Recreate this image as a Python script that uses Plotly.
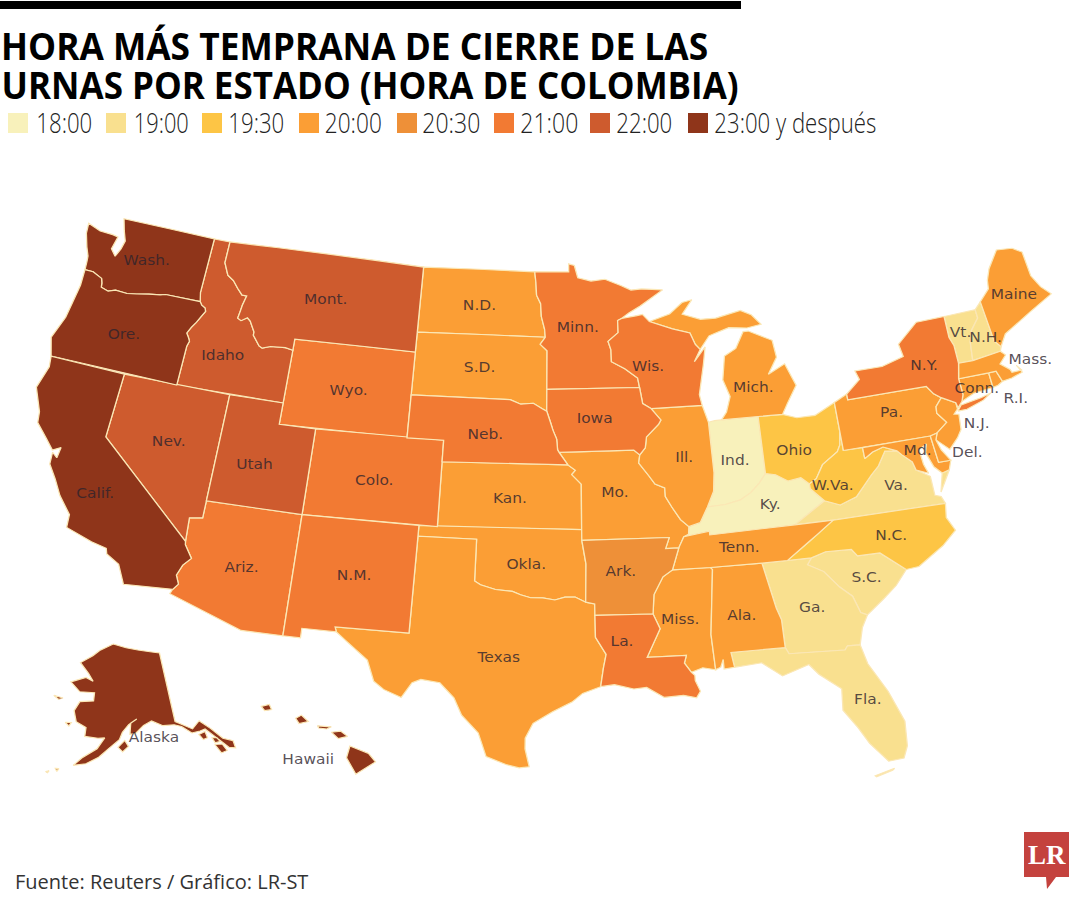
import json
import plotly.graph_objects as go

# closing hour categories, as in the legend
HOURS = ["18:00", "19:00", "19:30", "20:00", "20:30", "21:00", "22:00", "23:00 y después"]
HOUR_COLORS = ["#F8F1BB", "#F9E08F", "#FDC545", "#FB9E35", "#EE9038", "#F27A33", "#CE5B2E", "#8F351A"]
STATES_BY_HOUR = [
    ["IN", "KY"],
    ["VT", "NH", "VA", "SC", "GA", "FL"],
    ["OH", "WV", "NC"],
    ["ND", "SD", "KS", "OK", "TX", "MO", "IL", "MI", "MS", "AL", "TN", "PA", "NJ", "MD", "DE", "CT", "RI", "MA", "ME"],
    ["AR"],
    ["WY", "CO", "AZ", "NM", "MN", "WI", "IA", "NE", "NY", "LA"],
    ["ID", "MT", "NV", "UT"],
    ["WA", "OR", "CA", "AK", "HI"],
]

LABELS = ["Wash.", "Ore.", "Calif.", "Idaho", "Mont.", "Wyo.", "Nev.", "Utah", "Colo.", "Ariz.", "N.M.", "N.D.", "S.D.",
          "Neb.", "Kan.", "Okla.", "Texas", "Minn.", "Iowa", "Wis.", "Ill.", "Mo.", "Ark.", "La.", "Miss.", "Ala.",
          "Tenn.", "Mich.", "Ind.", "Ky.", "Ohio", "W.Va.", "Va.", "N.C.", "S.C.", "Ga.", "Fla.", "Pa.", "N.Y.", "Md.",
          "Del.", "N.J.", "Conn.", "R.I.", "Mass.", "N.H.", "Vt.", "Maine", "Alaska", "Hawaii"]
LABEL_LON = [-120.64, -120.65, -119.68, -114.9, -109.65, -107.55, -116.67, -111.94, -105.55, -111.6, -106.0, -100.5, -100.3,
             -99.8, -98.35, -97.44, -98.67, -94.65, -93.8, -90.67, -89.05, -92.84, -92.69, -92.77, -89.9, -86.9,
             -86.65, -84.85, -86.35, -84.8, -83.13, -81.42, -78.17, -78.95, -80.57, -83.45, -81.55, -77.56, -75.2, -76.65,
             -74.11, -73.22, -72.7, -70.8, -69.37, -71.4, -72.7, -69.1, -146.5, -157.7]
LABEL_LAT = [47.32, 43.72, 36.32, 43.7, 46.95, 42.9, 39.32, 38.93, 38.86, 34.14, 34.41, 47.3, 44.4,
             41.3, 38.36, 35.32, 31.0, 46.32, 42.1, 44.42, 40.1, 38.63, 34.98, 31.73, 32.64, 32.62,
             35.75, 43.08, 39.77, 37.6, 39.98, 38.13, 37.68, 35.46, 33.7, 32.64, 28.1, 41.04, 42.9, 39.12,
             38.6, 39.8, 41.37, 40.54, 42.14, 43.6, 44.07, 45.2, 58.4, 19.55]

# borders shared by two states, lon,lat
CHAINS = {
    "columbia": "-124.0,46.25 -123.5,46.25 -123.2,46.15 -122.9,46.05 -122.8,45.85 -122.75,45.65 -122.3,45.55 -121.9,45.68 -121.2,45.65 -120.65,45.73 -119.95,45.85 -119.3,45.93 -119.0,46.0 -116.92,46.0",
    "snake": "-116.92,46.0 -116.78,45.85 -116.55,45.75 -116.47,45.6 -116.67,45.3 -116.85,45.0 -117.05,44.75 -117.22,44.45 -117.05,44.25 -116.95,44.1 -117.03,43.85 -117.03,42.0",
    "idmt": "-116.05,49.0 -116.05,48.0 -115.7,47.45 -115.3,47.25 -114.95,46.93 -114.6,46.65 -114.32,46.65 -114.45,46.2 -114.5,45.85 -114.55,45.56 -114.33,45.47 -114.0,45.65 -113.8,45.52 -113.45,45.05 -113.45,44.9 -113.0,44.45 -112.8,44.37 -112.35,44.5 -111.5,44.55 -111.05,44.48",
    "colorado_r": "-114.72,32.72 -114.5,33.0 -114.7,33.4 -114.5,33.9 -114.15,34.27 -114.6,34.85 -114.63,35.0",
    "red_n": "-97.23,49.0 -97.15,48.5 -97.1,47.9 -96.85,47.5 -96.8,46.9 -96.6,46.3 -96.56,45.93",
    "sdmn": "-96.56,45.93 -96.85,45.6 -96.45,45.3 -96.45,43.5",
    "mo_up": "-98.5,43.0 -97.9,42.8 -97.2,42.85 -96.7,42.6 -96.45,42.49",
    "mo_ia": "-96.45,42.49 -96.25,42.0 -96.1,41.6 -95.9,41.2 -95.85,40.7 -95.77,40.58",
    "mo_ne": "-95.77,40.58 -95.3,40.0",
    "mo_ks": "-95.3,40.0 -94.9,39.75 -95.1,39.55 -94.6,39.1",
    "red_s": "-94.48,33.64 -95.0,33.88 -95.5,33.88 -96.0,33.75 -96.6,33.85 -97.2,33.85 -97.7,33.98 -98.1,34.13 -98.95,34.2 -99.7,34.4 -100.0,34.56",
    "sabine": "-94.04,32.0 -93.55,31.2 -93.7,30.55 -93.85,29.7",
    "mn_wi": "-92.29,46.66 -92.29,46.1 -92.9,45.7 -92.75,45.3 -92.75,44.75 -92.0,44.4 -91.3,43.95 -91.22,43.5",
    "ms_ia_wi": "-91.22,43.5 -91.1,42.75 -90.65,42.5",
    "ms_ia_il": "-90.65,42.5 -90.15,41.95 -90.3,41.75 -91.0,41.2 -91.1,40.7 -91.42,40.38",
    "ms_mo_il": "-91.42,40.38 -91.5,40.0 -91.0,39.4 -90.7,39.0 -90.2,38.8 -90.2,38.4 -89.9,37.9 -89.5,37.3 -89.1,36.95",
    "ms_mo_ky": "-89.1,36.95 -89.15,36.6 -89.4,36.5",
    "ms_mo_tn": "-89.4,36.5 -89.7,36.0",
    "ms_ar_tn": "-89.7,36.0 -90.1,35.0",
    "ms_ar_ms": "-90.1,35.0 -90.6,34.7 -91.1,33.9 -91.2,33.0",
    "ms_la": "-91.2,33.0 -90.9,32.3 -91.6,31.0",
    "boot": "-89.7,36.0 -90.37,36.0 -90.15,36.5",
    "ohio_il": "-88.05,37.8 -88.5,37.1 -89.1,36.95",
    "wabash": "-87.55,41.7 -87.53,39.35 -87.65,38.5 -88.05,37.8",
    "ohio_in": "-84.82,39.1 -85.2,38.7 -85.7,38.3 -86.3,38.0 -87.1,37.85 -88.05,37.8",
    "ohio_oh": "-82.6,38.4 -83.0,38.73 -83.7,38.65 -84.3,39.0 -84.82,39.1",
    "ohio_wv": "-80.52,40.64 -80.65,40.0 -80.85,39.7 -81.75,39.2 -82.2,38.6 -82.6,38.4",
    "ky_wv": "-82.6,38.4 -82.6,38.17 -81.97,37.54",
    "va_wv": "-81.97,37.54 -81.2,37.25 -80.3,37.52 -79.3,38.42 -78.85,38.77 -78.35,39.4 -77.72,39.32",
    "potomac_wv": "-77.72,39.32 -78.4,39.6 -79.0,39.45 -79.48,39.2 -79.48,39.72",
    "potomac_va": "-77.72,39.32 -77.5,39.1 -77.05,38.7 -76.95,38.3",
    "tn_nc": "-84.32,35.0 -83.1,35.75 -82.6,36.05 -81.7,36.6",
    "nc_sc": "-83.1,35.0 -82.35,35.2 -81.05,35.15 -80.8,34.82 -79.67,34.8 -78.55,33.86",
    "savannah": "-83.1,35.0 -83.35,34.7 -82.6,34.3 -81.95,33.5 -81.4,33.0 -81.15,32.2 -80.85,32.05",
    "ga_fl": "-81.45,30.72 -82.05,30.75 -82.2,30.57 -84.86,30.7 -85.0,31.0",
    "al_ga": "-85.0,31.0 -85.0,32.3 -85.18,32.87 -85.6,35.0",
    "al_ms": "-88.2,35.0 -88.1,34.9 -88.47,31.9 -88.4,30.25",
    "pearl": "-89.55,30.2 -89.85,30.65 -89.73,31.0",
    "delaware": "-74.7,41.36 -75.05,41.6 -75.35,42.0",
    "delaware_nj": "-74.7,41.36 -75.1,41.0 -75.15,40.7 -74.75,40.2 -75.4,39.8",
    "de_nj": "-75.4,39.8 -75.55,39.5",
    "ct_river": "-71.5,45.0 -71.5,44.6 -72.05,44.1 -72.3,43.6 -72.46,42.73",
    "ny_ne": "-73.35,45.0 -73.4,44.0 -73.25,43.6 -73.27,42.75",
    "mi_wi": "-90.42,46.55 -89.1,46.15 -88.1,45.9 -87.85,45.35 -87.6,45.1",
}

# state outlines, lon,lat; @name is a chain above, @name! the same chain reversed; | starts another ring
OUTLINES = {
    "WA": "-124.72,48.38 -124.65,47.9 -124.35,47.3 -124.1,46.9 -124.05,46.65 @columbia -117.04,46.42 -117.03,49.0 -122.75,49.0 -122.5,48.45 -122.25,48.0 -122.35,47.6 -122.55,47.2 -122.9,47.5 -122.75,48.1 -123.1,48.15 -123.9,48.17",
    "OR": "@columbia! -123.95,45.5 -124.05,44.7 -124.15,43.9 -124.55,42.84 -124.2,42.0 -117.03,42.0 @snake!",
    "CA": "-124.2,42.0 -124.1,41.5 -124.4,40.45 -123.8,39.4 -123.7,38.9 -123.0,38.3 -122.5,37.85 -122.1,38.05 -122.15,37.55 -122.45,37.75 -122.4,37.2 -121.9,36.6 -121.4,35.9 -120.65,35.15 -120.6,34.55 -119.2,34.15 -118.4,34.0 -118.3,33.75 -117.6,33.4 -117.12,32.53 @colorado_r -120.0,39.0 -120.0,42.0",
    "NV": "-120.0,42.0 -114.04,42.0 -114.04,36.2 -114.7,36.1 -114.63,35.0 -120.0,39.0",
    "AZ": "-114.04,37.0 -109.05,37.0 -109.05,31.33 -111.07,31.33 -114.81,32.5 @colorado_r -114.7,36.1 -114.04,36.2",
    "UT": "-114.04,42.0 -111.05,42.0 -111.05,41.0 -109.05,41.0 -109.05,37.0 -114.04,37.0",
    "WY": "-111.05,45.0 -104.05,45.0 -104.05,41.0 -111.05,41.0",
    "CO": "-109.05,41.0 -102.05,41.0 -102.05,37.0 -109.05,37.0",
    "NM": "-109.05,37.0 -103.0,37.0 -103.04,32.0 -106.62,32.0 -106.53,31.78 -108.2,31.78 -108.2,31.33 -109.05,31.33",
    "MT": "@idmt -111.05,45.0 -104.05,45.0 -104.05,49.0",
    "ID": "-117.03,49.0 @idmt -111.05,42.0 @snake! -117.04,46.42",
    "ND": "-104.05,49.0 @red_n -104.05,45.93",
    "SD": "-104.05,45.93 @sdmn @mo_up! -104.05,43.0",
    "NE": "-104.05,43.0 @mo_up @mo_ia @mo_ne -102.05,40.0 -102.05,41.0 -104.05,41.0",
    "KS": "-102.05,40.0 @mo_ne! @mo_ks -94.62,37.0 -102.05,37.0",
    "OK": "-103.0,37.0 -94.62,37.0 -94.62,36.5 -94.43,35.4 @red_s -100.0,36.5 -103.0,36.5",
    "TX": "-106.62,32.0 -103.04,32.0 -103.0,36.5 -100.0,36.5 @red_s! -94.04,33.55 -94.04,33.02 @sabine -94.7,29.4 -95.2,29.0 -96.1,28.55 -97.0,28.0 -97.35,27.3 -97.35,26.8 -97.15,25.96 -97.6,25.9 -98.2,26.05 -99.1,26.4 -99.5,27.5 -100.3,28.3 -100.7,29.1 -101.4,29.77 -102.3,29.88 -102.7,29.7 -103.15,28.98 -104.0,29.3 -104.5,29.65 -104.9,30.6 -106.0,31.4 -106.53,31.78",
    "MN": "@red_n @sdmn @mn_wi! -92.05,46.75 -91.6,47.0 -90.9,47.3 -89.5,48.0 -90.75,48.1 -91.4,48.07 -92.0,48.3 -92.95,48.62 -93.8,48.55 -94.6,48.72 -94.8,49.3 -95.15,49.38 -95.15,49.0",
    "IA": "-96.45,43.5 -91.22,43.5 @ms_ia_wi @ms_ia_il -91.73,40.61 @mo_ia!",
    "MO": "-95.77,40.58 -91.73,40.61 @ms_mo_il @ms_mo_ky @ms_mo_tn @boot -94.62,36.5 -94.62,37.0 @mo_ks! @mo_ne!",
    "AR": "-94.62,36.5 -90.15,36.5 -90.37,36.0 @ms_ar_tn @ms_ar_ms -94.04,33.02 -94.04,33.55 -94.48,33.64 -94.43,35.4",
    "LA": "-94.04,33.02 @ms_la -89.73,31.0 -89.85,30.65 -89.55,30.2 -89.4,30.05 -89.4,29.8 -89.2,29.3 -89.4,29.0 -90.0,29.15 -90.9,29.1 -91.7,29.6 -92.3,29.55 -93.2,29.78 @sabine!",
    "MS": "-90.1,35.0 -88.2,35.0 @al_ms -89.0,30.38 @pearl -91.6,31.0 @ms_la! @ms_ar_ms!",
    "AL": "-88.2,35.0 -85.6,35.0 @al_ga! -87.6,31.0 -87.5,30.3 -88.0,30.25 -88.0,30.7 -88.15,30.35 -88.4,30.25 -88.47,31.9 -88.1,34.9",
    "TN": "-90.1,35.0 -88.2,35.0 -85.6,35.0 @tn_nc -83.68,36.6 -88.07,36.5 -88.07,36.68 -89.4,36.5 -89.7,36.0",
    "KY": "-89.4,36.5 -88.07,36.68 -88.07,36.5 -83.68,36.6 -81.97,37.54 @ky_wv! @ohio_oh @ohio_in @ohio_il @ms_mo_ky",
    "IL": "-90.65,42.5 -87.8,42.5 @wabash @ohio_il @ms_mo_il! @ms_ia_il!",
    "IN": "-87.55,41.7 -87.2,41.75 -86.82,41.76 -84.8,41.76 -84.82,39.1 @ohio_in @wabash!",
    "OH": "-84.8,41.76 -83.45,41.73 -82.7,41.5 -81.7,41.5 -80.52,41.97 @ohio_wv @ohio_oh",
    "MI": "-86.82,41.76 -86.5,42.1 -86.2,42.8 -86.5,43.6 -86.25,44.7 -85.55,45.0 -85.0,45.75 -84.7,45.75 -83.4,45.2 -83.3,44.4 -83.9,43.65 -82.9,44.05 -82.45,43.0 -83.1,42.2 -83.45,41.73 -84.8,41.76 | @mi_wi -87.0,45.7 -86.6,45.8 -85.8,46.0 -84.75,45.9 -83.9,46.0 -84.4,46.5 -85.0,46.75 -86.5,46.5 -87.4,46.5 -88.45,46.8 -87.8,47.45 -88.4,47.35 -89.2,46.85",
    "WI": "-92.05,46.75 -91.2,46.85 -90.8,46.9 @mi_wi -88.0,44.55 -87.3,45.2 -87.5,44.4 -87.9,43.0 -87.8,42.5 -90.65,42.5 @ms_ia_wi! @mn_wi!",
    "PA": "-80.52,41.97 -79.76,42.27 -79.76,42.0 -75.35,42.0 @delaware! @delaware_nj -75.79,39.72 -80.52,39.72",
    "NY": "-79.76,42.0 -79.76,42.27 -78.9,42.85 -79.05,43.27 -77.5,43.27 -76.2,43.55 -76.3,44.15 -75.0,45.0 @ny_ne -73.5,42.05 -73.5,41.3 -73.65,41.0 -73.95,40.75 -74.0,41.0 @delaware -75.35,42.0 | -74.0,40.6 -73.75,40.85 -72.6,40.98 -72.0,41.1 -72.5,40.85 -73.5,40.6",
    "NJ": "-74.0,41.0 -74.0,40.7 -74.25,40.5 -74.0,40.45 -74.1,39.75 -74.4,39.4 -74.95,38.95 @de_nj! @delaware_nj!",
    "DE": "-75.79,39.72 -75.4,39.8 @de_nj -75.4,39.0 -75.05,38.45 -75.7,38.46",
    "MD": "-79.48,39.72 -75.79,39.72 -75.7,38.46 -75.05,38.45 -75.25,38.03 -75.65,37.95 -76.0,38.3 -76.25,39.0 -76.1,39.4 -76.55,39.2 -76.5,38.5 -76.35,38.05 @potomac_va! @potomac_wv",
    "VA": "-83.68,36.6 -81.7,36.6 -75.87,36.55 -76.0,36.9 -76.3,37.0 -76.3,37.9 @potomac_va! @va_wv! -81.97,37.54 | -75.65,37.95 -75.25,38.03 -75.95,37.1",
    "WV": "@ohio_wv @ky_wv @va_wv @potomac_wv -80.52,39.72",
    "NC": "@tn_nc -75.87,36.55 -76.0,35.9 -75.7,35.25 -76.5,34.65 -77.9,33.9 @nc_sc! -84.32,35.0",
    "SC": "@nc_sc -79.2,33.2 -79.9,32.7 @savannah!",
    "GA": "-85.6,35.0 @savannah -81.2,31.5 @ga_fl @al_ga",
    "FL": "-87.6,31.0 -85.0,31.0 @ga_fl! -81.25,29.8 -80.55,28.4 -80.05,26.9 -80.15,25.75 -80.4,25.2 -81.1,25.15 -81.8,26.1 -82.2,26.9 -82.75,27.8 -82.65,28.8 -83.6,29.6 -84.0,30.1 -85.3,29.7 -86.2,30.4 -87.5,30.3 | -81.8,24.55 -80.9,24.78 -81.0,24.7 -81.75,24.5",
    "VT": "@ny_ne @ct_river!",
    "NH": "-71.5,45.0 -71.08,45.3 -70.98,43.4 -70.7,43.07 -70.82,42.87 @ct_river!",
    "ME": "-71.08,45.3 -70.4,45.8 -70.3,46.2 -70.0,46.7 -69.23,47.46 -68.3,47.36 -67.8,47.07 -67.78,45.9 -67.45,45.3 -67.0,44.85 -68.5,44.3 -69.5,43.9 -70.25,43.6 -70.7,43.07 -70.98,43.4",
    "MA": "-73.5,42.05 -73.27,42.75 -72.46,42.73 -70.82,42.87 -70.6,42.65 -71.05,42.3 -70.6,41.95 -70.55,41.8 -70.0,41.8 -70.2,42.07 -70.0,41.7 -70.65,41.55 -71.2,41.5 -71.38,42.02 -71.8,42.02",
    "CT": "-73.5,42.05 -71.8,42.02 -71.8,41.32 -72.9,41.25 -73.65,41.0 -73.5,41.3",
    "RI": "-71.8,42.02 -71.38,42.02 -71.2,41.5 -71.5,41.37 -71.8,41.32",
    "AK": "-156.5,71.3 -152.0,70.8 -148.0,70.4 -144.0,70.0 -141.0,69.65 -141.0,60.3 -137.5,58.9 -135.5,59.75 -133.6,58.4 -131.8,56.7 -130.0,56.0 -130.1,55.0 -131.3,55.3 -132.3,56.3 -133.5,57.4 -134.8,58.5 -136.0,58.4 -137.9,58.4 -139.8,59.5 -141.4,59.9 -144.0,60.0 -146.5,60.8 -148.5,60.3 -150.5,59.3 -151.8,59.2 -151.5,60.7 -150.0,61.2 -152.0,60.5 -153.5,59.5 -154.2,58.5 -156.5,57.3 -158.5,56.1 -161.0,55.1 -163.5,54.7 -162.0,55.8 -159.0,57.2 -157.5,58.7 -159.0,58.6 -162.0,58.7 -162.0,59.9 -164.5,60.5 -165.5,61.9 -164.5,63.2 -161.0,63.5 -161.0,64.6 -165.0,64.5 -168.0,65.6 -164.0,66.5 -161.8,66.1 -163.5,67.1 -166.5,68.35 -163.0,69.5 -161.0,70.3 | -154.5,57.5 -153.0,58.4 -152.2,57.6 -153.5,56.9 | -136.5,58.0 -135.0,58.2 -134.9,57.3 -135.9,57.2 | -133.9,56.2 -132.4,56.0 -131.9,55.0 -133.2,54.9 | -134.0,57.2 -133.0,57.0 -132.6,56.4 -133.7,56.4 | -166.9,53.95 -166.2,54.0 -166.5,53.6 | -168.6,53.3 -168.0,53.5 -168.2,53.2 | -167.0,60.2 -165.6,60.3 -166.0,59.8 | -171.5,63.4 -169.0,63.3 -170.0,63.0",
    "HI": "-155.9,20.25 -155.1,19.9 -154.8,19.5 -155.65,18.93 -156.05,19.7 | -156.7,20.9 -156.3,20.95 -156.0,20.7 -156.4,20.6 | -158.25,21.55 -158.0,21.7 -157.7,21.4 -158.1,21.3 | -159.75,22.1 -159.4,22.2 -159.3,21.95 -159.6,21.9 | -157.3,21.2 -156.7,21.15 -156.9,21.05 -157.25,21.1",
}

LEGEND_SWATCH_X = [8, 106, 202, 299, 397, 494, 590, 688]
LEGEND_TEXT_X = [36, 134, 228, 325, 422, 520, 616, 714]
LEGEND_TEXT_W = [56, 55, 56, 57, 58, 58, 56, 162]
TITLE_LINES = ["HORA MÁS TEMPRANA DE CIERRE DE LAS", "URNAS POR ESTADO (HORA DE COLOMBIA)"]
TITLE_X = [1, 1]
TITLE_W = [707, 737]
TITLE_Y = [45, 84]

# the source map is a picture stretched sideways, so the geo layer gets the same stretch
MAP_MATRIX = [1.186, 0, 0, 1.034, -97, 27.7]


def parse_pts(text):
    pts = []
    for tok in text.split():
        if tok.startswith("@"):
            rev = tok.endswith("!")
            chain = parse_pts(CHAINS[tok[1:].rstrip("!")])
            pts += chain[::-1] if rev else chain
        else:
            lon, lat = tok.split(",")
            pts.append((float(lon), float(lat)))
    return pts


def ring_coords(text):
    lons, lats = [], []
    for part in text.split("|"):
        pts = parse_pts(part)
        # d3 wants clockwise rings, else the polygon is the rest of the globe
        area = sum(a[0] * b[1] - b[0] * a[1] for a, b in zip(pts, pts[1:] + pts[:1]))
        if area > 0:
            pts = pts[::-1]
        pts = pts + pts[:1]
        lons += [p[0] for p in pts] + [None]
        lats += [p[1] for p in pts] + [None]
    return lons[:-1], lats[:-1]


def fx(x):
    return x / 1080


def fy(y):
    return 1 - y / 900


fig = go.Figure()

for states, color in zip(STATES_BY_HOUR, HOUR_COLORS):
    for st in states:
        lons, lats = ring_coords(OUTLINES[st])
        fig.add_trace(go.Scattergeo(lon=lons, lat=lats, mode="lines", fill="toself", fillcolor=color,
                                    line=dict(color="#FBE7B5", width=1.1), hoverinfo="skip", showlegend=False))

fig.add_trace(go.Scattergeo(lon=LABEL_LON, lat=LABEL_LAT, text=LABELS, mode="text", hoverinfo="skip", showlegend=False,
                            textfont=dict(family="DejaVu Sans", size=13, color="rgba(45,35,45,0.8)")))

shapes = [dict(type="rect", xref="paper", yref="paper", x0=0, x1=fx(741), y0=fy(9), y1=fy(1),
               fillcolor="black", line_width=0)]
annotations = []
squeeze = {}
for x, tx, tw, label, color in zip(LEGEND_SWATCH_X, LEGEND_TEXT_X, LEGEND_TEXT_W, HOURS, HOUR_COLORS):
    shapes.append(dict(type="rect", xref="paper", yref="paper", x0=fx(x), x1=fx(x + 20), y0=fy(133), y1=fy(113),
                       fillcolor=color, line_width=0))
    annotations.append(dict(text=label, xref="paper", yref="paper", x=fx(tx + tw / 2), y=fy(122), xanchor="center",
                            yanchor="middle", showarrow=False,
                            font=dict(family="Open Sans", size=28, weight=300, color="#222222")))
    squeeze[label] = tw

for line, x, w, y in zip(TITLE_LINES, TITLE_X, TITLE_W, TITLE_Y):
    annotations.append(dict(text=line, xref="paper", yref="paper", x=fx(x + w / 2), y=fy(y), xanchor="center",
                            yanchor="middle", showarrow=False,
                            font=dict(family="Open Sans", size=37, weight=700, color="black")))
    squeeze[line] = w

annotations.append(dict(text="Fuente: Reuters / Gráfico: LR-ST", xref="paper", yref="paper", x=fx(13), y=fy(881),
                        xanchor="left", yanchor="middle", showarrow=False,
                        font=dict(family="Open Sans", size=20, color="#333333")))

# LR logo
logo = "M {} {} L {} {} L {} {} L {} {} L {} {} L {} {} L {} {} Z".format(
    fx(1024), fy(832), fx(1069), fy(832), fx(1069), fy(877), fx(1056), fy(877), fx(1047), fy(889), fx(1046), fy(877),
    fx(1024), fy(877))
shapes.append(dict(type="path", xref="paper", yref="paper", path=logo, fillcolor="#C4423E", line_width=0))
annotations.append(dict(text="<b>LR</b>", xref="paper", yref="paper", x=fx(1046.5), y=fy(855), xanchor="center",
                        yanchor="middle", showarrow=False,
                        font=dict(family="Liberation Serif", size=27, color="white")))

fig.update_layout(
    width=1080, height=900, margin=dict(l=0, r=0, t=0, b=0), paper_bgcolor="white", showlegend=False,
    shapes=shapes, annotations=annotations,
    geo=dict(
        domain=dict(x=[0, 1], y=[0, 1]), bgcolor="rgba(0,0,0,0)",
        projection=dict(type="albers usa", scale=1),
        showland=False, showlakes=False, showcountries=False, showsubunits=False, showcoastlines=False,
        showframe=False, showocean=False, showrivers=False,
    ),
)

post = """
document.body.style.margin = '0';
var squeeze = %s;
document.querySelectorAll('.annotation-text').forEach(function (t) {
    var w = squeeze[t.textContent];
    if (w) { t.setAttribute('textLength', w); t.setAttribute('lengthAdjust', 'spacingAndGlyphs'); }
});
document.querySelector('.geolayer').setAttribute('transform', 'matrix(%s)');
""" % (json.dumps(squeeze), " ".join(str(v) for v in MAP_MATRIX))

fig.write_html("out.html", post_script=post, config={"displayModeBar": False})
